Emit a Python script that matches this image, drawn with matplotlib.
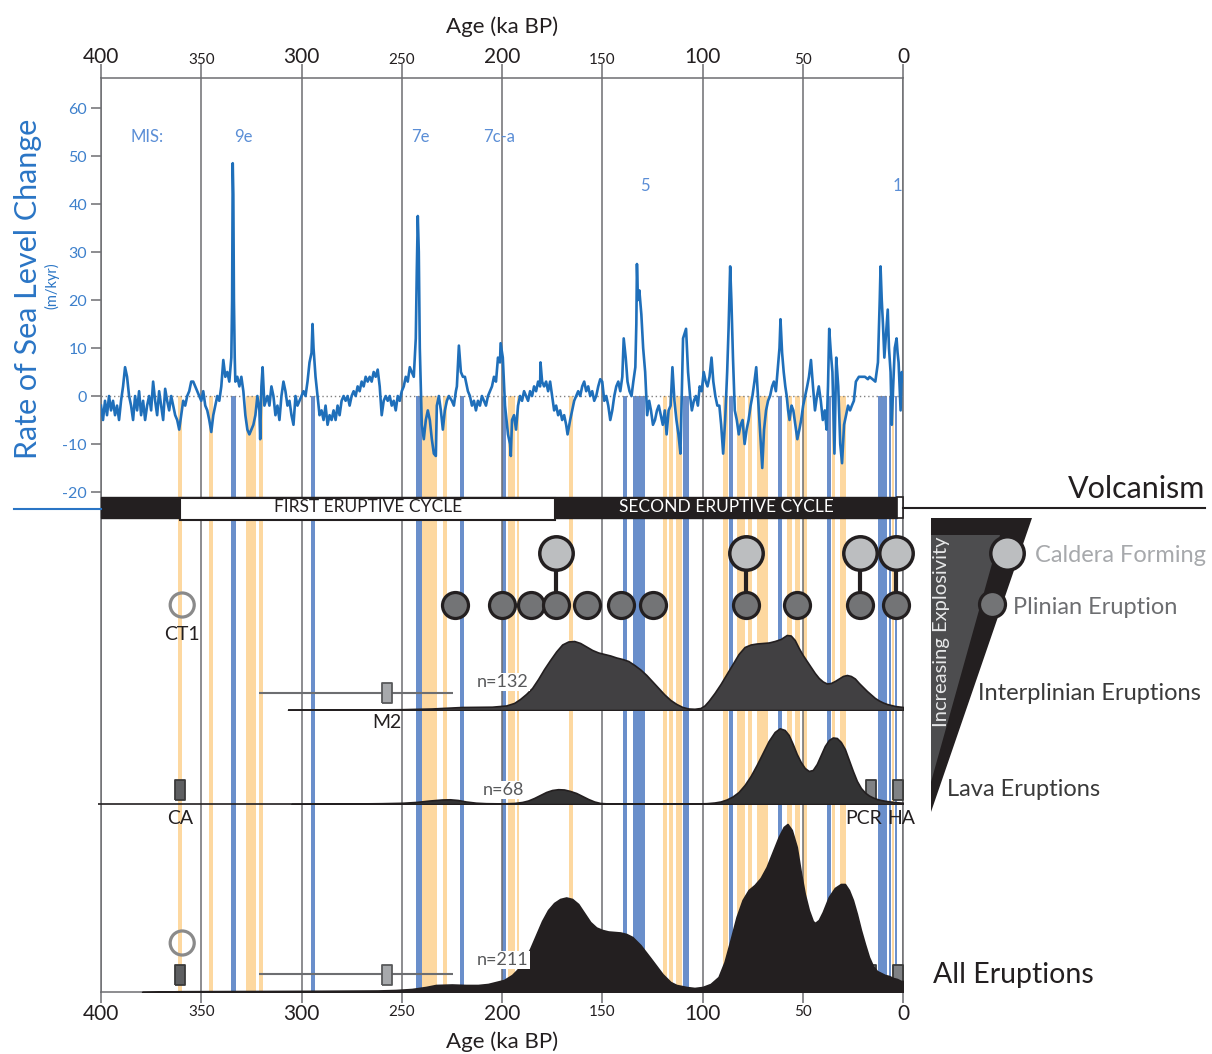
import matplotlib
matplotlib.use('Agg')
import matplotlib.pyplot as plt
from matplotlib.patches import Rectangle, Polygon

plt.rcParams['font.family'] = ['Lato', 'DejaVu Sans']

# ---------------- data ----------------
sl_age = [400, 399, 398, 397, 396, 395, 394, 393, 392, 391, 390, 389, 388, 387, 386, 385, 384, 383, 382, 381,
          380, 379, 378, 377, 376, 375, 374, 373, 372, 371, 370, 369, 368, 367, 366, 365, 364, 363, 362, 361,
          360, 359, 358, 357, 356, 355, 354, 353, 352, 351, 350, 349, 348, 347, 346, 345, 344, 343, 342, 341,
          340, 339, 338, 337, 336, 335, 334.6, 334.3, 334, 333.7, 333.3, 333, 332, 331, 330, 329, 328, 327, 326, 325,
          324, 323, 322, 321, 320.6, 320, 319.4, 318.5, 317, 316, 315, 314, 313, 312, 311, 310, 309, 308, 307, 306,
          305, 304, 303, 302, 301, 300, 299, 298, 297, 296, 295, 294.5, 294, 293, 292, 291, 290, 289, 288, 287,
          286, 285, 284, 283, 282, 281, 280, 279, 278, 277, 276, 275, 274, 273, 272, 271, 270, 269, 268, 267,
          266, 265, 264, 263, 262, 261, 260, 259, 258, 257, 256, 255, 254, 253, 252, 251, 250, 249, 248, 247,
          246, 245, 244, 243, 242.5, 242, 241.5, 241, 240.5, 240, 239, 238, 237, 236, 235, 234, 233, 232.5, 231.5, 230.5,
          229.5, 228.5, 227.5, 226.5, 225, 224, 223, 222.5, 221.5, 220.5, 219.5, 218.5, 217, 216, 215, 214, 213, 212, 211, 210,
          209, 208, 207, 206, 205, 204, 203, 202, 201, 200.7, 199.6, 198.5, 198, 197, 196, 195.6, 195, 194, 193, 192,
          191, 190, 189, 188, 187, 186, 185, 184, 183, 182, 181, 180.8, 180, 179, 178, 177, 176, 175, 174, 173,
          172, 171, 170, 169, 168, 167.3, 166, 165, 164, 163, 162, 161, 160, 159, 158, 157, 156, 155, 154, 153,
          152, 151, 150, 149, 148, 147, 146, 145, 144, 143, 142, 141, 140, 139.3, 138.3, 137.4, 136.4, 135.4, 134.5, 133.5,
          133, 132.7, 132.2, 131.5, 130.5, 129.6, 128.6, 127.6, 126.6, 125.7, 124.7, 123.7, 122.7, 121.8, 120.8, 119.8, 118.8, 117.9, 116.9, 115.9,
          115, 114, 113, 112, 111, 109.7, 108.2, 107.2, 106.2, 105.3, 104.3, 103.3, 102.3, 101.4, 100.4, 99.4, 98.4, 97.5, 96.5, 95.5,
          94.6, 93.6, 92.6, 91.6, 90.7, 89.7, 88.7, 87.7, 87, 86.2, 85.6, 84.8, 83.9, 82.9, 81.9, 81, 80, 79, 78, 77,
          76, 75.1, 74.1, 73.2, 72.2, 71.2, 70.2, 69.3, 68.3, 67.3, 66.3, 65.3, 64.4, 63.4, 62.4, 61.6, 61.1, 60.3, 59.5, 58.7,
          58, 57.3, 56.6, 55.6, 54.7, 53.7, 52.7, 51.7, 50.8, 49.8, 48.8, 47.8, 46.9, 45.9, 44.9, 43.9, 42.9, 42, 41, 40,
          39, 38.1, 37.4, 36.8, 36, 35.2, 34.2, 33.3, 32.3, 31.3, 30.4, 29.4, 28.4, 27.4, 26.4, 25.5, 24.5, 23.5, 22, 20.6,
          19, 17.5, 16.7, 15.2, 13.8, 12.5, 11.6, 11.2, 10.6, 10, 9.3, 8.6, 7.6, 7, 6.2, 5.6, 4.9, 4.1, 3.2, 2.7,
          2.2, 1.2, 0.6, 0]
sl_rate = [-2, -5, -1, -4, 0, -3, -1, -4, -2, -5, -1, 2, 6, 4, 0, -2, -5, 0, -3, 1,
           -4, -1, -5, -2, 0, -3, 3, -1, -4, 1, -2, -5, 1.5, -1, -3, 0, -2, -4, -5, -7,
           -4, -1, -2, 0, 1, 3, 3, 2, 1, 0, -1, 1, -2, -3, -5, -7.5, -4, -2, 0, -1,
           2, 7.5, 4, 5, 3, 8, 20, 48.5, 42, 20, 8, 3, 4, 2, 4, 1, -4, -7, -8, -7,
           -6, -4, 0, -3, -9, 2, 6, -2, 0, -2, 2, 0, -4, -2, -5, 0, 3, 1, -2, -1,
           -4, -6, 0, -2, -1, 0, 1, 0, 3, 7, 9, 15, 10, 4, 0, -4, -3, -5, -2, -6,
           -4, -5, -3, -5, -2, -4, -1, 0, -1, 0, -2, 0, 1, 0, 2, 1, 3, 2, 4, 3,
           4, 3, 5, 4, 5.5, 2, -4, -1, 0, -1, 0, -2, -1, -3, 0, -1, 1, 2, 4, 3,
           6, 5, 4, 12, 26, 37.5, 30, 10, 2, -6, -9, -5, -3, -5, -9, -12, -12.5, -2, 0, -3,
           -7, -3, -1, 0, -1, -2, 1, 2, 10.5, 5, 4, 4, 1, 0, -2, -1, -3, -1, -2, 0,
           -1, -2, 0, 1, 2, 4, 3, 8, 7, 11, 8, -2, -4, -8, -10, -12.5, -5, -4, -7, -2,
           0, -1, 1, 0, -1, 1, 0, 2, 1, 3, 2, 7, 3, 2, 3, 1, 3, 0, -3, -2,
           -4, -3, -5, -4, -6, -8, -5, -3, -1, 0, 1, 0, 2, 3, 1, 2, 0, 1, -1, 0,
           2, 3.5, 3, -1, 0, -2, -5, -3, 0, 2, 3, 1, 4, 12, 8, 3, 1, 0, 3, 6,
           15, 27.5, 20, 22, 17, 10, 5, -4, -1, -3, -6, -5, -3, -2, -4, -6, -3, -8, -3, -2,
           6, -1, -5, -8, -12, 12, 14, 5, 0, -3, -1, 0, -2, 2, 1, 5, 3, 2, 4, 8,
           3, 0, -2, -2, -6, -12, -5, 5, 14, 27, 20, 8, -3, -5, -8, -6, -5, -10, -7, -5,
           -2, 0, 3, 6, -1, -8, -15, -7, -3, -1, 0, 2, 3, 1, 6, 10, 16, 9, 5, 2,
           0, -3, -5, -2, -3, -6, -9, -7, -5, -2, 0, 2, 4, 7.5, 2, -3, 0, 2, -1, -5,
           -3, -7, 2, 14, 9, 5, -12, 8, 2, -10, -14, -6, -4, -2, -3, -2, -1, 3, 4, 4,
           4, 3.5, 4, 3.5, 3, 7, 20, 27, 20, 15, 8, 12, 18, 10, 5, -6, 2, 10, 12, 9,
           7, -3, 5, 3]

orange_bands = [(361.6, 359.6), (346.1, 344.1), (327.7, 322.7), (321.0, 319.4), (240.0, 232.4),
                (229.4, 227.6), (197.0, 193.5), (192.6, 191.4), (166.6, 164.6), (119.7, 117.7),
                (116.7, 114.7), (113.2, 110.2), (89.8, 87.3), (82.8, 78.8), (77.3, 75.3),
                (72.8, 67.3), (57.9, 55.4), (53.9, 51.4), (49.9, 47.9), (35.4, 33.9),
                (31.4, 28.4), (5.5, 4.5)]
blue_bands = [(335.2, 332.7), (295.4, 293.4), (242.9, 240.0), (220.8, 218.8), (200.0, 198.0),
              (139.6, 137.6), (134.7, 128.7), (109.7, 106.7), (86.8, 84.8), (62.3, 60.3),
              (37.9, 35.9), (12.5, 8.0), (7.0, 6.0), (4.0, 3.0)]

mis_labels = ['MIS:', '9e', '7e', '7c-a', '5', '1']
mis_age = [377.0, 328.8, 240.6, 201.5, 128.7, 3.0]

cycle_labels = ['FIRST ERUPTIVE CYCLE', 'SECOND ERUPTIVE CYCLE']
cycle_start = [360.5, 173.6]
cycle_end = [173.6, 3.0]

plinian_age = [223.4, 200.1, 185.7, 173.3, 157.5, 140.8, 124.5, 78.5, 53.0, 21.4, 3.4]
caldera_age = [173.3, 78.5, 21.4, 3.4]
ct1_age = 359.5
m2_age = 257.5
m2_range = (321.2, 224.4)
lava_names = ['CA', 'PCR', 'HA']
lava_age = [360.5, 16.0, 2.5]

kde_inter_age = [306.7, 290, 270, 250, 235, 220, 205, 198, 194, 191, 188, 185, 182, 179, 176, 173, 170, 167,
                 164, 161, 158, 155, 152, 149, 146, 143, 140, 137, 134, 131, 128, 125, 122, 119, 116, 113,
                 110, 107, 104, 101, 99, 97, 94, 91, 88, 85, 82, 79, 76, 73, 70, 67, 64, 61, 58, 56, 54,
                 52, 50, 48, 46, 44, 42, 40, 38, 36, 34, 32, 30, 28, 26, 24, 22, 20, 18, 16, 14, 12, 10,
                 8, 6, 4, 2, 0]
kde_inter_val = [0.0, 0.003, 0.005, 0.008, 0.015, 0.03, 0.033, 0.045, 0.07, 0.11, 0.16, 0.22, 0.31, 0.41, 0.50,
                 0.585, 0.655, 0.685, 0.69, 0.67, 0.635, 0.60, 0.575, 0.56, 0.545, 0.525, 0.51, 0.49, 0.45,
                 0.405, 0.35, 0.285, 0.22, 0.155, 0.10, 0.06, 0.03, 0.015, 0.012, 0.02, 0.045, 0.09, 0.17,
                 0.26, 0.36, 0.46, 0.56, 0.63, 0.655, 0.665, 0.67, 0.675, 0.69, 0.71, 0.75, 0.745, 0.70,
                 0.62, 0.55, 0.49, 0.43, 0.37, 0.32, 0.285, 0.265, 0.27, 0.29, 0.315, 0.34, 0.35, 0.34,
                 0.315, 0.27, 0.23, 0.19, 0.155, 0.12, 0.095, 0.075, 0.06, 0.05, 0.04, 0.035, 0.03]
kde_lava_age = [305, 290, 275, 260, 250, 243, 236, 230, 226, 222, 218, 213, 208, 200, 194, 190, 187, 184,
                181, 178, 175, 172, 169, 166, 163, 160, 157, 154, 151, 146, 120, 105, 98, 94, 91, 88, 85,
                82, 79, 76, 73, 70, 67, 64, 61.5, 59, 57, 55, 53, 51, 49, 47, 45, 43, 41, 39, 37, 35, 33,
                31, 29, 27, 25, 23, 21, 19, 17, 15, 13, 11, 9, 6, 3, 0]
kde_lava_val = [0.0, 0.003, 0.005, 0.008, 0.012, 0.02, 0.035, 0.045, 0.047, 0.04, 0.025, 0.013, 0.008, 0.006,
                0.01, 0.02, 0.035, 0.06, 0.09, 0.12, 0.14, 0.148, 0.145, 0.13, 0.11, 0.08, 0.05, 0.025, 0.01,
                0.004, 0.003, 0.004, 0.008, 0.015, 0.025, 0.045, 0.075, 0.12, 0.19, 0.28, 0.39, 0.51, 0.63,
                0.72, 0.757, 0.74, 0.69, 0.60, 0.50, 0.42, 0.36, 0.33, 0.34, 0.40, 0.49, 0.58, 0.64, 0.665,
                0.66, 0.62, 0.55, 0.44, 0.33, 0.23, 0.16, 0.115, 0.085, 0.065, 0.05, 0.04, 0.032, 0.024,
                0.017, 0.013]
kde_all_age = [379.5, 360, 320, 290, 262, 253, 245, 238, 233, 225, 218, 212, 207, 203, 199, 195, 192, 189,
               186, 183, 180, 177, 174, 171, 168, 165, 162, 159, 156, 153, 150, 147, 144, 141, 138, 135,
               131, 126, 120, 116, 113, 108, 104, 100, 96, 92, 89, 86, 83, 80, 77, 74, 71, 68, 65, 62,
               59.5, 57.6, 55.5, 53, 51, 49, 47, 45, 43.9, 42, 40, 37, 34, 31, 29, 27, 25, 23, 21, 19,
               17, 15, 13, 11, 9, 7, 5, 3, 1, 0]
kde_all_val = [0.0, 0.008, 0.01, 0.012, 0.015, 0.02, 0.03, 0.05, 0.07, 0.075, 0.07, 0.07, 0.08, 0.10, 0.12,
               0.17, 0.23, 0.32, 0.43, 0.57, 0.71, 0.82, 0.89, 0.93, 0.945, 0.93, 0.88, 0.79, 0.70, 0.645,
               0.62, 0.605, 0.60, 0.595, 0.58, 0.55, 0.47, 0.34, 0.18, 0.10, 0.07, 0.05, 0.04, 0.05, 0.08,
               0.15, 0.30, 0.52, 0.75, 0.92, 1.02, 1.07, 1.14, 1.25, 1.40, 1.55, 1.65, 1.68, 1.62, 1.45,
               1.20, 0.98, 0.82, 0.71, 0.69, 0.72, 0.80, 0.95, 1.04, 1.08, 1.08, 1.02, 0.92, 0.78, 0.62,
               0.48, 0.35, 0.26, 0.21, 0.19, 0.17, 0.16, 0.14, 0.13, 0.11, 0.11]
n_inter, n_lava, n_all = 132, 68, 211

xticks = [400, 350, 300, 250, 200, 150, 100, 50, 0]
yticks = [60, 50, 40, 30, 20, 10, 0, -10, -20]

# ---------------- layout / style ----------------
W, H = 1212, 1054
X0, X1, YT, YB = 101, 903, 78, 992
Y_ZERO, PX_UNIT = 396, 4.8
GRAY = '#6D6E71'
ORANGE = '#FDD8A0'
BLUEB = '#6A8FCB'
SLBLUE = '#1F6FBA'
LBLUE = '#5B8ED6'
INK = '#231F20'

fig = plt.figure(figsize=(W / 100, H / 100), dpi=100)
fig.patch.set_facecolor('white')


def axrect(x0, ytop, x1, ybot):
    return [x0 / W, 1 - ybot / H, (x1 - x0) / W, (ybot - ytop) / H]


ax = fig.add_axes(axrect(X0, YT, X1, YB))
ax.set_xlim(400, 0)
ax.set_ylim((Y_ZERO - YB) / PX_UNIT, (Y_ZERO - YT) / PX_UNIT)
ax.patch.set_alpha(0)
for s in ax.spines.values():
    s.set_color(GRAY)
    s.set_linewidth(1.1)
ax.spines['top'].set_visible(False)


def yf(py):
    return (YB - py) / (YB - YT)


xt = ax.get_xaxis_transform()
ylo, yhi = ax.get_ylim()
frac0 = (0 - ylo) / (yhi - ylo)

for a, b in orange_bands:
    ax.axvspan(a, b, ymin=0, ymax=frac0, color=ORANGE, lw=0, zorder=1)
for a, b in blue_bands:
    ax.axvspan(a, b, ymin=0, ymax=frac0, color=BLUEB, lw=0, zorder=1.1)

ax.set_xticks(xticks)
ax.set_xticklabels([str(t) for t in xticks])
ax.grid(axis='x', color=GRAY, lw=1.1, zorder=1.5)
ax.set_axisbelow('line')
ax.tick_params(axis='x', direction='out', length=8, width=1.1, color=GRAY, pad=1, labelcolor='#231F20')
ax.set_yticks(yticks)
ax.set_yticklabels([str(t) for t in yticks])
ax.tick_params(axis='y', direction='out', length=7, width=1.1, color=GRAY, pad=3, labelcolor='#3D80CC',
               labelsize=11.5)
for t, v in zip(ax.xaxis.get_major_ticks(), xticks):
    t.label1.set_fontsize(15 if v % 100 == 0 else 11)
ax.set_xlabel('Age (ka BP)', fontsize=16, labelpad=5, color='#231F20')

sec = ax.secondary_xaxis('top')
sec.set_xticks(xticks)
sec.set_xticklabels([str(t) for t in xticks])
sec.tick_params(direction='out', length=10, width=1.1, color=GRAY, pad=-2, labelcolor='#231F20')
for t, v in zip(sec.xaxis.get_major_ticks(), xticks):
    t.label2.set_fontsize(15 if v % 100 == 0 else 11)
sec.spines['top'].set_color(GRAY)
sec.spines['top'].set_linewidth(1.1)
sec.set_xlabel('Age (ka BP)', fontsize=16, labelpad=10, color='#231F20')

# sea level
ax.axhline(0, color='#808080', lw=1.0, ls=(0, (1, 2)), zorder=3)
ax.plot(sl_age, sl_rate, color=SLBLUE, lw=1.9, zorder=4, solid_joinstyle='round')

mis_level = [54, 54, 54, 54, 43.8, 43.8]
for lab, a, lv in zip(mis_labels, mis_age, mis_level):
    ax.text(a, lv, lab, color=LBLUE, fontsize=12, ha='center', va='center', zorder=5)

# eruptive cycle bar
bar_lo, bar_hi = yf(518), yf(497)
ax.add_patch(Rectangle((400, bar_lo), -(400 - cycle_end[-1]), bar_hi - bar_lo, transform=xt,
                       facecolor=INK, edgecolor=INK, lw=1, zorder=6, clip_on=False))
ax.add_patch(Rectangle((cycle_start[0], yf(520)), -(cycle_start[0] - cycle_end[0]), yf(498) - yf(520),
                       transform=xt, facecolor='white', edgecolor=INK, lw=1.5, zorder=6.5))
ax.add_patch(Rectangle((cycle_end[-1], bar_lo), -cycle_end[-1], bar_hi - bar_lo, transform=xt,
                       facecolor='white', edgecolor=INK, lw=1.2, zorder=6.5, clip_on=False))
for lab, a, b, c in zip(cycle_labels, cycle_start, cycle_end, [INK, 'white']):
    ax.text((a + b) / 2, (bar_lo + bar_hi) / 2, lab, transform=xt, ha='center', va='center',
            fontsize=12.5, color=c, zorder=7)

# eruption symbols
ax.vlines(caldera_age, yf(605), yf(553), transform=xt, color=INK, lw=3, zorder=7)
ax.scatter(plinian_age, [yf(605)] * len(plinian_age), transform=xt, s=350, facecolor='#737476',
           edgecolor=INK, linewidth=2.3, zorder=8, clip_on=False)
ax.scatter(caldera_age, [yf(553)] * len(caldera_age), transform=xt, s=580, facecolor='#BCBEC0',
           edgecolor=INK, linewidth=2.5, zorder=8, clip_on=False)
ax.scatter([ct1_age, ct1_age], [yf(605), yf(943)], transform=xt, s=300, facecolor='none',
           edgecolor='#8A8A8A', linewidth=2.3, zorder=8)
ax.text(ct1_age, yf(635), 'CT1', transform=xt, ha='center', va='center', fontsize=14, color=INK, zorder=8)

rect_marker = [(-0.28, -0.5), (0.28, -0.5), (0.28, 0.5), (-0.28, 0.5), (-0.28, -0.5)]
ax.hlines([yf(693), yf(974)], m2_range[0], m2_range[1], transform=xt, color=GRAY, lw=1.5, zorder=7)
ax.plot([m2_age, m2_age], [yf(693), yf(975)], transform=xt, ls='none', marker=rect_marker, markersize=14,
        markerfacecolor='#A7A9AC', markeredgecolor='#58595B', markeredgewidth=1.3, zorder=8)
ax.text(m2_age, yf(722), 'M2', transform=xt, ha='center', va='center', fontsize=14, color=INK, zorder=8)

lava_fc = ['#5E5F61', '#808285', '#808285']
for nm, a, fc, lx in zip(lava_names, lava_age, lava_fc, [0, 3.5, -1.5]):
    ax.plot([a, a], [yf(790), yf(975)], transform=xt, ls='none', marker=rect_marker, markersize=14,
            markerfacecolor=fc, markeredgecolor='#3A3A3A', markeredgewidth=1.3, zorder=8)
    ax.text(a + lx, yf(818), nm, transform=xt, ha='center', va='center', fontsize=14, color=INK, zorder=8)


# KDE rows
def kde_axes(base, ymax):
    a = fig.add_axes(axrect(X0, base - ymax * 100, X1, base))
    a.set_xlim(400, 0)
    a.set_ylim(0, ymax)
    a.axis('off')
    a.patch.set_alpha(0)
    return a


ax_i = kde_axes(710, 1.0)
ax_i.hlines(0, kde_inter_age[0], 0, color=INK, lw=1.2, zorder=2)
ax_i.fill_between(kde_inter_age, 0, kde_inter_val, facecolor='#414042', edgecolor=INK, lw=1.2, zorder=3)
ax_i.text(199.5, 0.28, f'n={n_inter}', ha='center', va='center', fontsize=13, color='#58595B', zorder=4,
          bbox=dict(facecolor='white', edgecolor='none', pad=0.5))

ax_l = kde_axes(804, 1.0)
ax_l.hlines(0, 401.5, 0, color=INK, lw=1.2, zorder=2, clip_on=False)
ax_l.fill_between(kde_lava_age, 0, kde_lava_val, facecolor='#333334', edgecolor=INK, lw=1.2, zorder=3)
ax_l.text(199.5, 0.14, f'n={n_lava}', ha='center', va='center', fontsize=13, color='#58595B', zorder=4,
          bbox=dict(facecolor='white', edgecolor='none', pad=0.5))

ax_a = kde_axes(YB, 2.0)
ax_a.fill_between(kde_all_age, 0, kde_all_val, facecolor=INK, edgecolor=INK, lw=1.2, zorder=3)
ax_a.text(199.5, 0.32, f'n={n_all}', ha='center', va='center', fontsize=13, color='#58595B', zorder=4,
          bbox=dict(facecolor='white', edgecolor='none', pad=0.5))

# overlay (pixel coords) for annotations and legend
ov = fig.add_axes([0, 0, 1, 1])
ov.set_xlim(0, W)
ov.set_ylim(H, 0)
ov.axis('off')
ov.patch.set_alpha(0)

ov.text(28, 289, 'Rate of Sea Level Change', rotation=90, ha='center', va='center', fontsize=22, color='#2A75C5')
ov.text(52, 286, '(m/kyr)', rotation=90, ha='center', va='center', fontsize=10.5, color='#2A75C5')
ov.plot([14, X0], [509, 509], color='#2A75C5', lw=1.5)
ov.plot([X1, 1205], [508, 508], color=INK, lw=1.5)
ov.text(1205, 489, 'Volcanism', ha='right', va='center', fontsize=22, color=INK)
ov.text(933, 975, 'All Eruptions', ha='left', va='center', fontsize=20.5, color=INK)

ov.add_patch(Polygon([(931, 518), (1032, 518), (931, 812)], closed=True, facecolor=INK, edgecolor='none'))
ov.add_patch(Polygon([(931, 535), (1000, 535), (931, 782)], closed=True, facecolor='#4D4D4F', edgecolor='none'))
ov.text(942, 632, 'Increasing Explosivity', rotation=90, ha='center', va='center', fontsize=14.5, color='#E6E7E8')
ov.scatter([1007], [553], s=580, facecolor='#BCBEC0', edgecolor=INK, linewidth=2.5, zorder=5)
ov.scatter([992], [604], s=350, facecolor='#737476', edgecolor=INK, linewidth=2.3, zorder=5)
ov.text(1035, 556, 'Caldera Forming', ha='left', va='center', fontsize=17, color='#A7A9AC')
ov.text(1013, 607, 'Plinian Eruption', ha='left', va='center', fontsize=17, color='#6D6E71')
ov.text(978, 693, 'Interplinian Eruptions', ha='left', va='center', fontsize=17, color='#3A3A3A')
ov.text(947, 789, 'Lava Eruptions', ha='left', va='center', fontsize=17, color='#3A3A3A')

fig.savefig('out.png', dpi=100, facecolor='white')
